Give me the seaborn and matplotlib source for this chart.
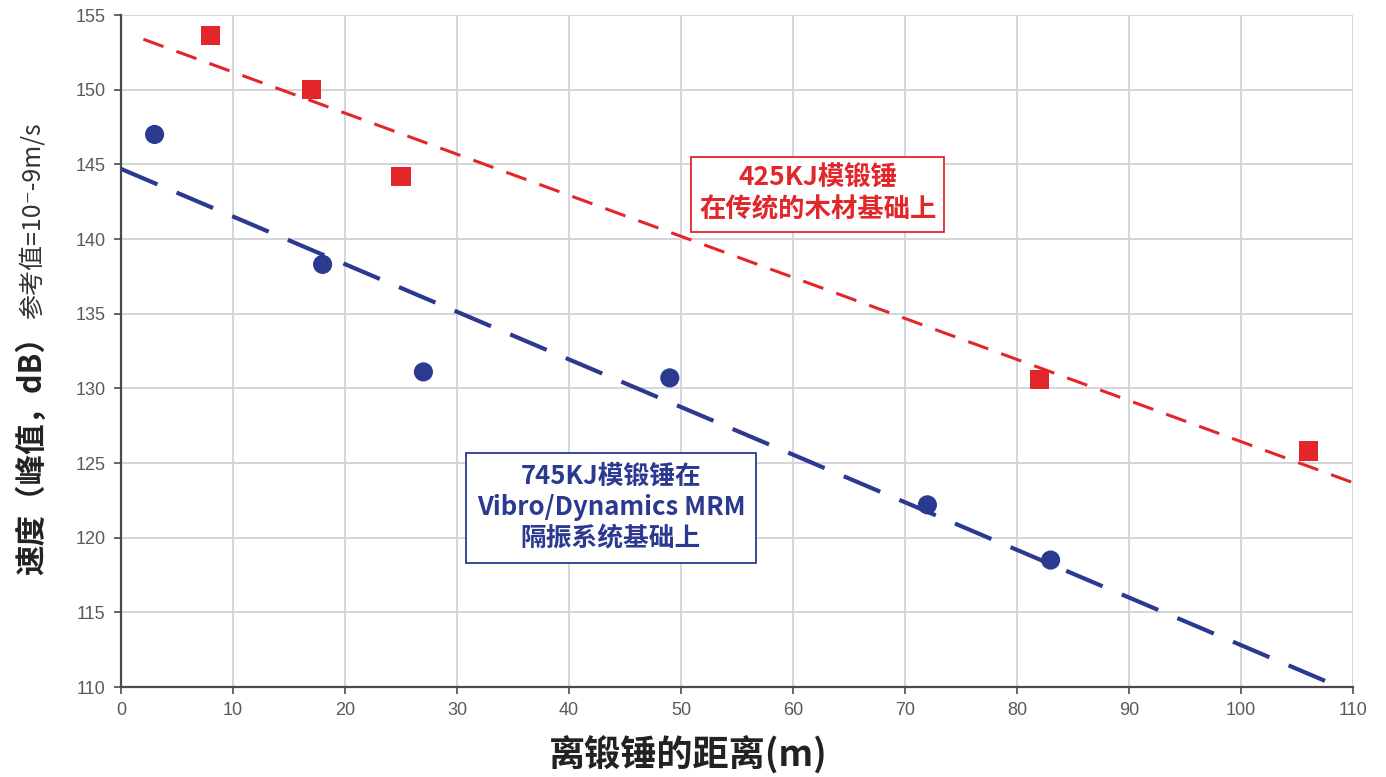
import numpy as np
import pandas as pd
import matplotlib
matplotlib.use("Agg")
import matplotlib.pyplot as plt
import seaborn as sns
from matplotlib import font_manager

# ---- data ----
red_dist = [8, 17, 25, 82, 106]
red_vel = [153.6, 150.0, 144.2, 130.6, 125.8]
blue_dist = [3, 18, 27, 49, 72, 83]
blue_vel = [147.0, 138.3, 131.1, 130.7, 122.2, 118.5]
red_fit_range = [2, 110]
blue_fit_range = [0, 110]
x_ticks = [0, 10, 20, 30, 40, 50, 60, 70, 80, 90, 100, 110]
y_ticks = [110, 115, 120, 125, 130, 135, 140, 145, 150, 155]
red_label = "425KJ模锻锤\n在传统的木材基础上"
blue_label = "745KJ模锻锤在\nVibro/Dynamics MRM\n隔振系统基础上"
x_title = "离锻锤的距离(m)"
y_title_main = "速度（峰值，dB）"
y_title_sub = "参考值=10⁻-9m/s"

RED = "#E3262A"
BLUE = "#2B3990"

sns.set_theme(style="whitegrid")
names = {f.name for f in font_manager.fontManager.ttflist}
narrow = "Liberation Sans Narrow" if "Liberation Sans Narrow" in names else "Liberation Sans"
plt.rcParams['font.family'] = ['Noto Sans CJK SC', 'DejaVu Sans']
plt.rcParams['axes.unicode_minus'] = False

fig = plt.figure(figsize=(13.86, 7.77), dpi=100)
ax = fig.add_axes([121/1386, 1 - 687/777, (1353-121)/1386, (687-15)/777])

red_df = pd.DataFrame({"d": red_dist, "v": red_vel})
blue_df = pd.DataFrame({"d": blue_dist, "v": blue_vel})

# fitted trend lines
rs, ri = np.polyfit(red_dist, red_vel, 1)
bs, bi = np.polyfit(blue_dist, blue_vel, 1)
rx = np.array(red_fit_range, dtype=float)
bx = np.array(blue_fit_range, dtype=float)
red_line = pd.DataFrame({"d": rx, "v": rs * rx + ri})
blue_line = pd.DataFrame({"d": bx, "v": bs * bx + bi})

sns.lineplot(data=red_line, x="d", y="v", ax=ax, color=RED, lw=2.2,
             linestyle=(0, (7, 4.5)), zorder=3)
sns.lineplot(data=blue_line, x="d", y="v", ax=ax, color=BLUE, lw=3.0,
             linestyle=(0, (9.5, 5)), zorder=3)

sns.scatterplot(data=red_df, x="d", y="v", ax=ax, marker="s", s=190,
                color=RED, edgecolor="none", zorder=4)
sns.scatterplot(data=blue_df, x="d", y="v", ax=ax, marker="o", s=190,
                color=BLUE, edgecolor="none", zorder=4)

ax.set_xlim(0, 110)
ax.set_ylim(110, 155)
ax.set_xticks(x_ticks)
ax.set_yticks(y_ticks)
ax.set_facecolor("white")
ax.grid(True, color="#D4D4DC", lw=1.4)
for s in ["top", "right"]:
    ax.spines[s].set_visible(False)
for s in ["left", "bottom"]:
    ax.spines[s].set_visible(True)
    ax.spines[s].set_color("#4a4a4a")
    ax.spines[s].set_linewidth(1.6)
ax.tick_params(axis="both", which="both", direction="out", length=5,
               width=1.2, color="#4a4a4a", labelcolor="#5a5a5a",
               labelsize=13, left=True, bottom=True, pad=6)
for lab in ax.get_xticklabels() + ax.get_yticklabels():
    lab.set_family([narrow, 'DejaVu Sans'])
ax.set_xlabel("")
ax.set_ylabel("")

# axis titles
fig.text(688/1386, 1 - 754/777, x_title, ha="center", va="center",
         fontsize=26, fontweight="bold", color="#222222")
fig.text(32/1386, 1 - 448/777, y_title_main, rotation=90, ha="center",
         va="center", fontsize=22, fontweight="bold", color="#222222")
fig.text(33/1386, 1 - 221/777, y_title_sub, rotation=90, ha="center",
         va="center", fontsize=18, color="#333333",
         family=['Noto Sans CJK SC', 'DejaVu Sans'])

# annotation boxes
ax.text(62.2, 143.0, red_label, ha="center", va="center", fontsize=19,
        fontweight="bold", color=RED, linespacing=1.25,
        bbox=dict(boxstyle="square,pad=0.3", fc="white", ec=RED, lw=1.3))
ax.text(43.75, 122.0, blue_label, ha="center", va="center", fontsize=18.5,
        fontweight="bold", color=BLUE, linespacing=1.2,
        bbox=dict(boxstyle="square,pad=0.4", fc="white", ec=BLUE, lw=1.3))

fig.savefig("out.png", dpi=100, facecolor="white")
